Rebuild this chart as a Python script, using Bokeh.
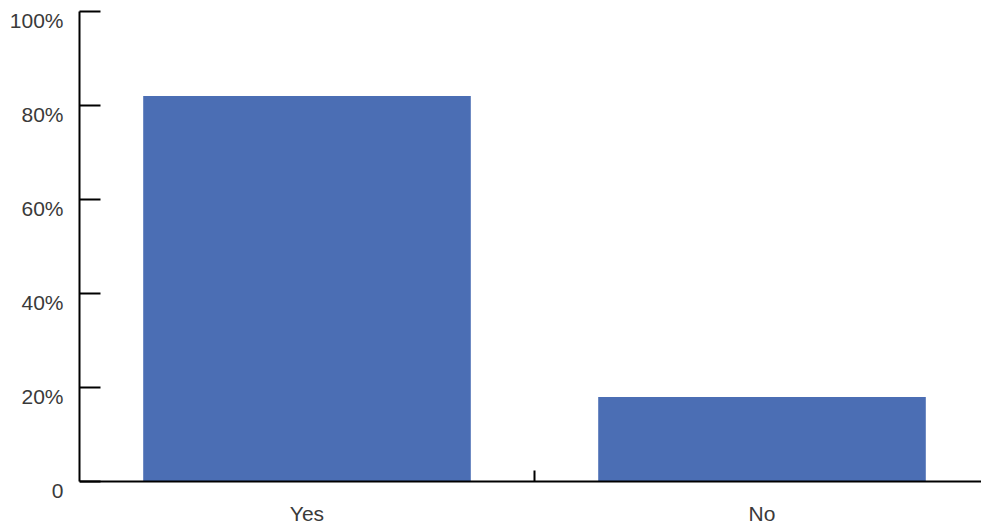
from bokeh.plotting import figure
from bokeh.models import Range1d, FixedTicker, ColumnDataSource, LinearAxis, CustomLabelingPolicy
from bokeh.embed import file_html
from bokeh.resources import INLINE

categories = ["Yes", "No"]
values = [82, 18]
y_ticks = [0, 20, 40, 60, 80, 100]
y_tick_labels = ["0", "20%", "40%", "60%", "80%", "100%"]

xpos = [i + 0.5 for i in range(len(categories))]
src = ColumnDataSource(dict(x=xpos, top=values, cat=categories))

PX_PER_UNIT = 4.7
LABEL_SHIFT_PX = 9  # y tick labels sit slightly below their ticks
shift = LABEL_SHIFT_PX / PX_PER_UNIT

p = figure(width=981, height=527, output_backend="svg", toolbar_location=None,
           x_range=Range1d(0, 902 / 455), y_range=Range1d(-shift, 100),
           min_border_left=79, min_border_right=0, min_border_top=11, min_border_bottom=37)
p.extra_y_ranges = {"labels": Range1d(0, 100 + shift)}

p.vbar(x="x", top="top", width=0.72, bottom=0, source=src,
       fill_color="#4b6eb4", line_color=None)

p.xgrid.visible = False
p.ygrid.visible = False
p.outline_line_color = None
p.background_fill_color = "white"
p.border_fill_color = "white"

font = "Liberation Sans"
txt = "#3a3a3a"
fs = "21px"
hide_all = CustomLabelingPolicy(code="return new Set()")

# x axis line at zero with the boundary tick (labels hidden)
xa = p.xaxis[0]
xa.fixed_location = 0
xa.ticker = FixedTicker(ticks=xpos, minor_ticks=[1.0])
xa.major_tick_in = 0
xa.major_tick_out = 0
xa.minor_tick_in = 11
xa.minor_tick_out = 0
xa.minor_tick_line_color = "black"
xa.minor_tick_line_width = 2
xa.axis_line_color = "black"
xa.axis_line_width = 2
xa.major_label_text_font_size = "1px"
xa.major_label_standoff = 0
xa.major_label_policy = hide_all

# category labels
xl = LinearAxis(ticker=FixedTicker(ticks=xpos, minor_ticks=[]),
                major_label_overrides={x: c for x, c in zip(xpos, categories)},
                axis_line_color=None, major_tick_line_color=None,
                minor_tick_line_color=None,
                major_tick_in=0, major_tick_out=0, minor_tick_in=0, minor_tick_out=0,
                major_label_text_font=font, major_label_text_font_size=fs,
                major_label_text_color=txt, major_label_standoff=11)
p.add_layout(xl, "below")

# y axis line and tick marks (labels hidden)
ya = p.yaxis[0]
ya.bounds = (0, 100)
ya.ticker = FixedTicker(ticks=y_ticks, minor_ticks=[])
ya.major_tick_in = 21
ya.major_tick_out = 0
ya.minor_tick_in = 0
ya.minor_tick_out = 0
ya.major_tick_line_color = "black"
ya.major_tick_line_width = 2
ya.axis_line_color = "black"
ya.axis_line_width = 2
ya.major_label_text_font_size = "1px"
ya.major_label_standoff = 0
ya.major_label_policy = hide_all

# percentage labels (placed slightly below the ticks)
yl = LinearAxis(y_range_name="labels",
                ticker=FixedTicker(ticks=y_ticks, minor_ticks=[]),
                major_label_overrides={t: l for t, l in zip(y_ticks, y_tick_labels)},
                axis_line_color=None, major_tick_line_color=None,
                minor_tick_line_color=None,
                major_tick_in=0, major_tick_out=0, minor_tick_in=0, minor_tick_out=0,
                major_label_text_font=font, major_label_text_font_size=fs,
                major_label_text_color=txt, major_label_standoff=11)
p.add_layout(yl, "left")

open("out.html", "w").write(file_html(p, INLINE))
